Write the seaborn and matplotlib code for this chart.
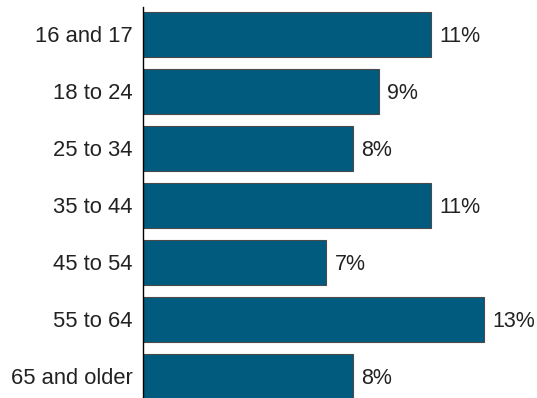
import matplotlib
matplotlib.use("Agg")
from matplotlib import pyplot as plt
import seaborn as sns
import pandas as pd

age_groups = ["16 and 17", "18 to 24", "25 to 34", "35 to 44", "45 to 54", "55 to 64", "65 and older"]
shares = [11, 9, 8, 11, 7, 13, 8]

df = pd.DataFrame({"age": age_groups, "share": shares})

sns.set_style("white")
plt.rcParams['font.family'] = ['Liberation Sans', 'DejaVu Sans']

fig = plt.figure(figsize=(5.37, 3.98), dpi=100)
ax = fig.add_axes([143 / 537, 0, 1 - 143 / 537, 1 - 7 / 398])
sns.barplot(data=df, x="share", y="age", orient="h", ax=ax, color="#005b7f",
            saturation=1, width=0.8, edgecolor="#4a4a4a", linewidth=0.8)

for i, v in enumerate(shares):
    ax.text(v + 0.33, i + 0.03, f"{v}%", va="center", ha="left", fontsize=15.5, color="#222222")

ax.set_xlim(0, (537 - 143) / 26.2)
ax.set_ylim(6.38, -0.48)
ax.set_xlabel("")
ax.set_ylabel("")
ax.set_xticks([])
ax.tick_params(axis="y", length=0, pad=7.5, labelsize=15.8, labelcolor="#222222")
for s in ["top", "right", "bottom"]:
    ax.spines[s].set_visible(False)
ax.spines["left"].set_color("black")
ax.spines["left"].set_linewidth(1.0)

plt.savefig("out.png", dpi=100)
